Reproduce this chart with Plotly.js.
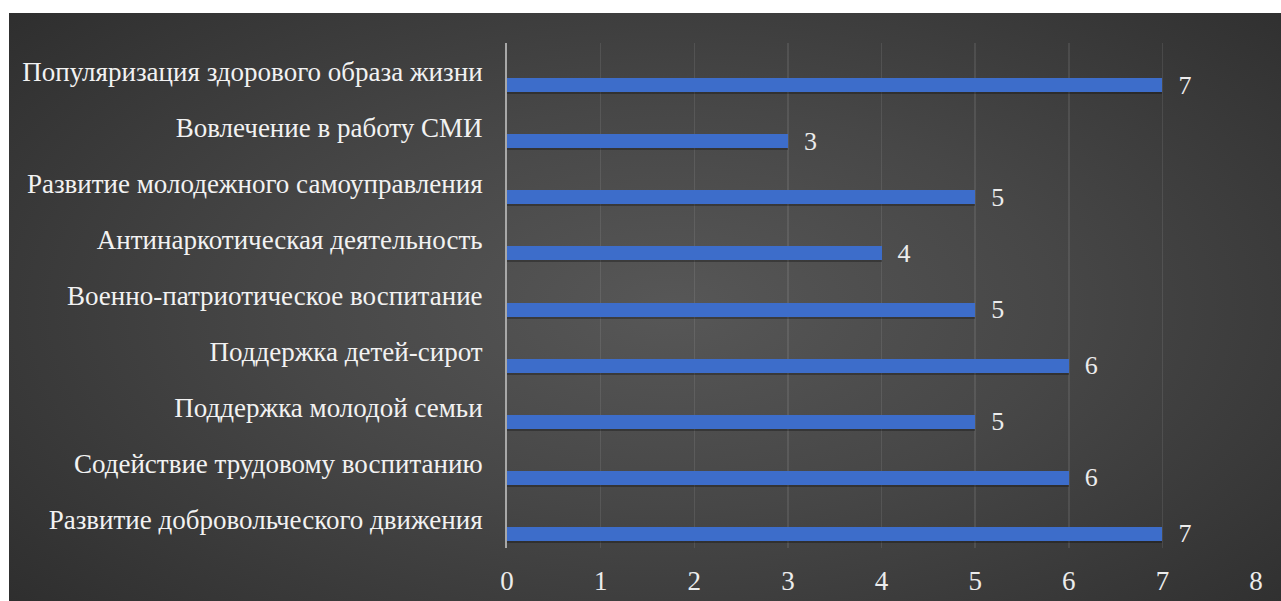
<!DOCTYPE html>
<html>
<head>
<meta charset="utf-8">
<script src="https://cdn.plot.ly/plotly-3.0.1.min.js"></script>
<style>
  html, body { margin: 0; padding: 0; background: #ffffff; width: 1281px; height: 601px; overflow: hidden; }
  #wrap {
    position: absolute; left: 9px; top: 13px; width: 1272px; height: 588px;
    background: radial-gradient(ellipse 75% 85% at 52% 50%, #575757 0%, #474747 40%, #2a2a2a 100%);
  }
  #chart { width: 1272px; height: 588px; }
</style>
</head>
<body>
<div id="wrap"><div id="chart"></div></div>
<script>
const categories = [
  "Популяризация здорового образа жизни",
  "Вовлечение в работу СМИ",
  "Развитие молодежного самоуправления",
  "Антинаркотическая деятельность",
  "Военно-патриотическое воспитание",
  "Поддержка детей-сирот",
  "Поддержка молодой семьи",
  "Содействие трудовому воспитанию",
  "Развитие добровольческого движения"
];
const values = [7, 3, 5, 4, 5, 6, 5, 6, 7];
const xTicks = [0, 1, 2, 3, 4, 5, 6, 7, 8];

const fontFam = "Times New Roman, Liberation Serif, DejaVu Serif, serif";

const shadow = {
  type: 'bar',
  orientation: 'h',
  y: categories,
  x: values,
  width: 0.25,
  offset: 0.16,
  marker: { color: 'rgba(0,0,0,0.28)', line: { width: 0 } },
  hoverinfo: 'none'
};

const trace = {
  type: 'bar',
  orientation: 'h',
  y: categories,
  x: values,
  width: 0.25,
  offset: 0.125,
  marker: { color: '#3d6dca', line: { width: 0 } },
  text: values.map(v => '\u00a0\u00a0' + v),
  textposition: 'outside',
  constraintext: 'none',
  cliponaxis: false,
  textfont: { family: fontFam, size: 26, color: '#ececec' },
  hoverinfo: 'none'
};

const layout = {
  width: 1272,
  height: 588,
  margin: { l: 498, r: 25, t: 30, b: 53 },
  paper_bgcolor: 'rgba(0,0,0,0)',
  plot_bgcolor: 'rgba(0,0,0,0)',
  showlegend: false,
  barmode: 'overlay',
  bargap: 0,
  font: { family: fontFam },
  xaxis: {
    range: [0, 8],
    tickvals: xTicks,
    ticktext: xTicks.map(String),
    showgrid: true,
    gridcolor: 'rgba(255,255,255,0.09)',
    gridwidth: 1.5,
    zeroline: false,
    showline: false,
    ticks: '',
    ticklabelstandoff: 14,
    tickfont: { family: fontFam, size: 27, color: '#ececec' },
    fixedrange: true
  },
  yaxis: {
    type: 'category',
    autorange: 'reversed',
    showgrid: false,
    zeroline: false,
    showline: true,
    linecolor: '#a8a8a8',
    linewidth: 2,
    ticks: '',
    ticklabelstandoff: 17,
    tickfont: { family: fontFam, size: 27, color: '#f2f2f2' },
    fixedrange: true
  }
};

Plotly.newPlot('chart', [shadow, trace], layout, { displayModeBar: false, staticPlot: true });
</script>
</body>
</html>
